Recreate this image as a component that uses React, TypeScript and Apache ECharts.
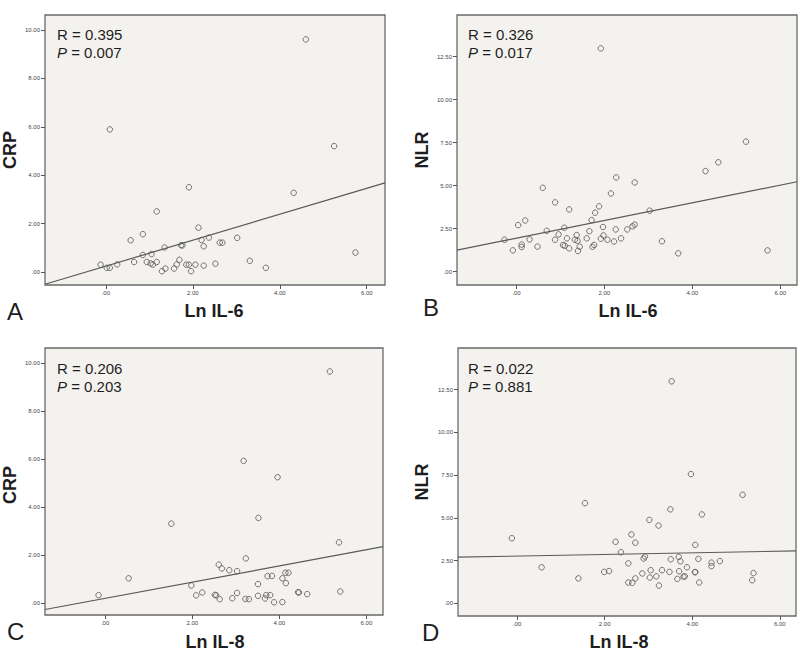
import React, { useEffect, useRef } from "react";
import * as echarts from "echarts";

// ---- Data ----
const pointsA: number[][] = [
  [4.60, 9.61], [0.09, 5.89], [5.25, 5.20], [1.91, 3.50], [4.32, 3.27], [1.17, 2.50], [2.13, 1.83],
  [0.85, 1.56], [0.57, 1.31], [2.20, 1.32], [2.37, 1.42], [3.02, 1.41], [2.62, 1.21], [2.68, 1.21],
  [2.25, 1.06], [1.35, 1.01], [1.73, 1.10], [1.76, 1.10], [5.74, 0.80], [3.31, 0.46], [0.85, 0.70],
  [1.05, 0.74], [1.69, 0.50], [-0.12, 0.30], [0.26, 0.31], [0.65, 0.41], [0.94, 0.41], [1.17, 0.41],
  [1.08, 0.30], [1.03, 0.35], [1.85, 0.30], [1.91, 0.30], [2.06, 0.30], [2.25, 0.26], [2.52, 0.34],
  [1.63, 0.31], [0.02, 0.17], [0.09, 0.17], [1.37, 0.14], [1.57, 0.14], [1.29, 0.03], [1.96, 0.03],
  [3.68, 0.17],
];
const pointsB: number[][] = [
  [1.92, 12.98], [5.22, 7.56], [4.59, 6.36], [4.30, 5.85], [2.27, 5.48], [2.69, 5.19], [0.60, 4.88],
  [2.15, 4.55], [0.88, 4.03], [1.20, 3.62], [1.88, 3.80], [1.79, 3.43], [3.03, 3.55], [1.71, 3.00],
  [0.20, 2.98], [0.04, 2.71], [0.69, 2.38], [1.09, 2.56], [1.66, 2.36], [1.97, 2.60], [2.26, 2.46],
  [2.52, 2.46], [2.64, 2.64], [2.69, 2.74], [0.96, 2.17], [1.37, 2.13], [1.98, 2.11], [-0.27, 1.86],
  [0.30, 1.88], [0.88, 1.86], [1.15, 1.94], [1.33, 1.86], [1.39, 1.80], [1.60, 1.94], [1.92, 1.92],
  [2.07, 1.86], [2.22, 1.76], [2.38, 1.94], [3.31, 1.77], [-0.08, 1.24], [0.12, 1.58], [0.12, 1.44],
  [0.48, 1.46], [1.06, 1.55], [1.10, 1.51], [1.20, 1.36], [1.44, 1.46], [1.40, 1.21], [1.73, 1.45],
  [1.77, 1.56], [3.68, 1.07], [5.71, 1.24],
];
const pointsC: number[][] = [
  [5.16, 9.65], [3.18, 5.92], [3.96, 5.24], [3.52, 3.54], [1.52, 3.30], [5.37, 2.52], [3.23, 1.85],
  [2.61, 1.59], [2.68, 1.43], [2.85, 1.36], [3.03, 1.32], [0.54, 1.02], [1.98, 0.72], [3.73, 1.11],
  [3.83, 1.12], [4.14, 1.25], [4.21, 1.25], [4.07, 1.02], [4.15, 0.82], [3.51, 0.78], [5.40, 0.47],
  [-0.15, 0.32], [2.09, 0.31], [2.23, 0.43], [2.52, 0.33], [2.55, 0.31], [2.63, 0.15], [2.92, 0.19],
  [3.03, 0.41], [3.22, 0.16], [3.30, 0.15], [3.51, 0.29], [3.67, 0.18], [3.70, 0.32], [3.79, 0.32],
  [3.88, 0.02], [4.07, 0.03], [4.43, 0.44], [4.45, 0.43], [4.64, 0.36],
];
const pointsD: number[][] = [
  [3.53, 12.99], [3.97, 7.56], [5.15, 6.35], [1.55, 5.86], [3.50, 5.50], [4.22, 5.20], [3.02, 4.88],
  [3.23, 4.55], [-0.12, 3.81], [2.61, 4.03], [2.25, 3.60], [2.70, 3.55], [4.07, 3.42], [2.37, 2.99],
  [2.54, 2.34], [2.92, 2.74], [2.89, 2.62], [3.69, 2.72], [3.51, 2.58], [3.73, 2.46], [4.14, 2.60],
  [4.44, 2.38], [4.44, 2.18], [4.63, 2.47], [0.56, 2.11], [3.88, 2.11], [1.99, 1.84], [2.10, 1.89],
  [3.05, 1.94], [3.31, 1.94], [3.48, 1.84], [3.70, 1.88], [4.06, 1.82], [4.07, 1.83], [2.86, 1.75],
  [5.40, 1.77], [1.40, 1.46], [2.70, 1.46], [3.03, 1.51], [3.18, 1.58], [3.66, 1.43], [3.80, 1.56],
  [3.83, 1.58], [5.37, 1.35], [2.54, 1.22], [2.63, 1.20], [4.16, 1.22], [3.24, 1.04],
];

// fitted regression lines (end points)
const fitA: number[][] = [[-1.40, -0.51], [6.42, 3.68]];
const fitB: number[][] = [[-1.35, 1.26], [6.38, 5.23]];
const fitC: number[][] = [[-1.38, -0.28], [6.38, 2.34]];
const fitD: number[][] = [[-1.35, 2.70], [6.37, 3.07]];

// tick values
const xTicks = [0, 2, 4, 6];
const crpTicks = [0, 2, 4, 6, 8, 10];
const nlrTicks = [0, 2.5, 5, 7.5, 10, 12.5];

// axis extents
const xRangeA = [-1.40, 6.42];
const yRangeA = [-0.54, 10.62];
const xRangeB = [-1.35, 6.38];
const yRangeB = [-0.77, 14.92];
const xRangeC = [-1.38, 6.38];
const yRangeC = [-0.51, 10.63];
const xRangeD = [-1.35, 6.37];
const yRangeD = [-0.74, 14.94];

// statistics texts
const statR = ["0.395", "0.326", "0.206", "0.022"];
const statP = ["0.007", "0.017", "0.203", "0.881"];
const panelLetters = ["A", "B", "C", "D"];
const xNames = ["Ln IL-6", "Ln IL-6", "Ln IL-8", "Ln IL-8"];
const yNames = ["CRP", "NLR", "CRP", "NLR"];

const FONT = "'Liberation Sans', Arial, sans-serif";

const fmt = (v: number) => (v === 0 ? ".00" : v.toFixed(2));

export default function App() {
  const ref = useRef<HTMLDivElement>(null);

  useEffect(() => {
    if (!ref.current) return;
    const chart = echarts.init(ref.current, undefined, { renderer: "svg" });

    const grids = [
      { left: 45, top: 15, width: 340, height: 270 },
      { left: 457, top: 15, width: 340, height: 270 },
      { left: 45, top: 348, width: 338, height: 267 },
      { left: 458, top: 348, width: 338, height: 268 },
    ];
    const xRanges = [xRangeA, xRangeB, xRangeC, xRangeD];
    const yRanges = [yRangeA, yRangeB, yRangeC, yRangeD];
    const yTickSets = [crpTicks, nlrTicks, crpTicks, nlrTicks];
    const pointSets = [pointsA, pointsB, pointsC, pointsD];
    const fits = [fitA, fitB, fitC, fitD];

    const tickStyle = { color: "#555", width: 1 };

    const xAxis = grids.map((_, i) => ({
      type: "value",
      gridIndex: i,
      position: "bottom",
      min: xRanges[i][0],
      max: xRanges[i][1],
      axisLine: { show: false, onZero: false },
      splitLine: { show: false },
      axisTick: {
        show: true,
        customValues: xTicks,
        length: 4,
        inside: false,
        lineStyle: tickStyle,
      },
      axisLabel: {
        customValues: xTicks,
        formatter: fmt,
        fontSize: 6,
        color: "#444",
        fontFamily: FONT,
        margin: 5,
      },
    }));

    const yAxis = grids.map((_, i) => ({
      type: "value",
      gridIndex: i,
      position: "left",
      min: yRanges[i][0],
      max: yRanges[i][1],
      axisLine: { show: false, onZero: false },
      splitLine: { show: false },
      axisTick: {
        show: true,
        customValues: yTickSets[i],
        length: 4,
        inside: false,
        lineStyle: tickStyle,
      },
      axisLabel: {
        customValues: yTickSets[i],
        formatter: fmt,
        fontSize: 6,
        color: "#444",
        fontFamily: FONT,
        margin: 5,
      },
    }));

    const series: any[] = [];
    pointSets.forEach((pts, i) => {
      series.push({
        type: "line",
        xAxisIndex: i,
        yAxisIndex: i,
        data: fits[i],
        symbol: "none",
        lineStyle: { color: "#5a5a5a", width: 1.2 },
        z: 2,
      });
      series.push({
        type: "scatter",
        xAxisIndex: i,
        yAxisIndex: i,
        data: pts,
        symbol: "circle",
        symbolSize: 5.5,
        itemStyle: { color: "rgba(0,0,0,0)", borderColor: "#555", borderWidth: 1 },
        z: 3,
      });
    });

    // annotation positions
    const statPos = [
      [57, 34],
      [468, 34],
      [57, 368],
      [468, 368],
    ];
    const letterPos = [
      [7, 311],
      [423, 307],
      [7, 631],
      [422, 632],
    ];
    const xNamePos = [
      [214, 311],
      [628, 311],
      [215, 642],
      [619, 642],
    ];
    const yNamePos = [
      [10, 150],
      [421.5, 150],
      [10, 485],
      [421.5, 482],
    ];

    const graphic: any[] = [];
    for (let i = 0; i < 4; i++) {
      graphic.push({
        type: "text",
        x: statPos[i][0],
        y: statPos[i][1],
        style: {
          text: "R = " + statR[i],
          font: `15px ${FONT}`,
          fill: "#1e1e1e",
          verticalAlign: "middle",
          align: "left",
        },
        z: 10,
      });
      graphic.push({
        type: "text",
        x: statPos[i][0],
        y: statPos[i][1] + 18,
        style: {
          text: "{i|P} = " + statP[i],
          font: `15px ${FONT}`,
          fill: "#1e1e1e",
          verticalAlign: "middle",
          align: "left",
          rich: {
            i: { fontStyle: "italic", fontSize: 15, fontFamily: FONT, fill: "#1e1e1e" },
          },
        },
        z: 10,
      });
      graphic.push({
        type: "text",
        x: letterPos[i][0],
        y: letterPos[i][1],
        style: {
          text: panelLetters[i],
          font: `24px ${FONT}`,
          fill: "#1e1e1e",
          verticalAlign: "middle",
          align: "left",
        },
      });
      graphic.push({
        type: "text",
        x: xNamePos[i][0],
        y: xNamePos[i][1],
        style: {
          text: xNames[i],
          font: `bold 18px ${FONT}`,
          fill: "#1e1e1e",
          verticalAlign: "middle",
          align: "center",
        },
      });
      graphic.push({
        type: "text",
        x: yNamePos[i][0],
        y: yNamePos[i][1],
        rotation: Math.PI / 2,
        style: {
          text: yNames[i],
          font: `bold 18px ${FONT}`,
          fill: "#1e1e1e",
          verticalAlign: "middle",
          align: "center",
        },
      });
    }

    chart.setOption({
      animation: false,
      backgroundColor: "#ffffff",
      grid: grids.map((g) => ({
        ...g,
        show: true,
        backgroundColor: "#f4f2ef",
        borderColor: "#6a6a6a",
        borderWidth: 1.3,
        containLabel: false,
      })),
      xAxis,
      yAxis,
      series,
      graphic,
    } as any);

    return () => {
      chart.dispose();
    };
  }, []);

  return (
    <div
      ref={ref}
      style={{ position: "absolute", left: 0, top: 0, width: 800, height: 651 }}
    />
  );
}
